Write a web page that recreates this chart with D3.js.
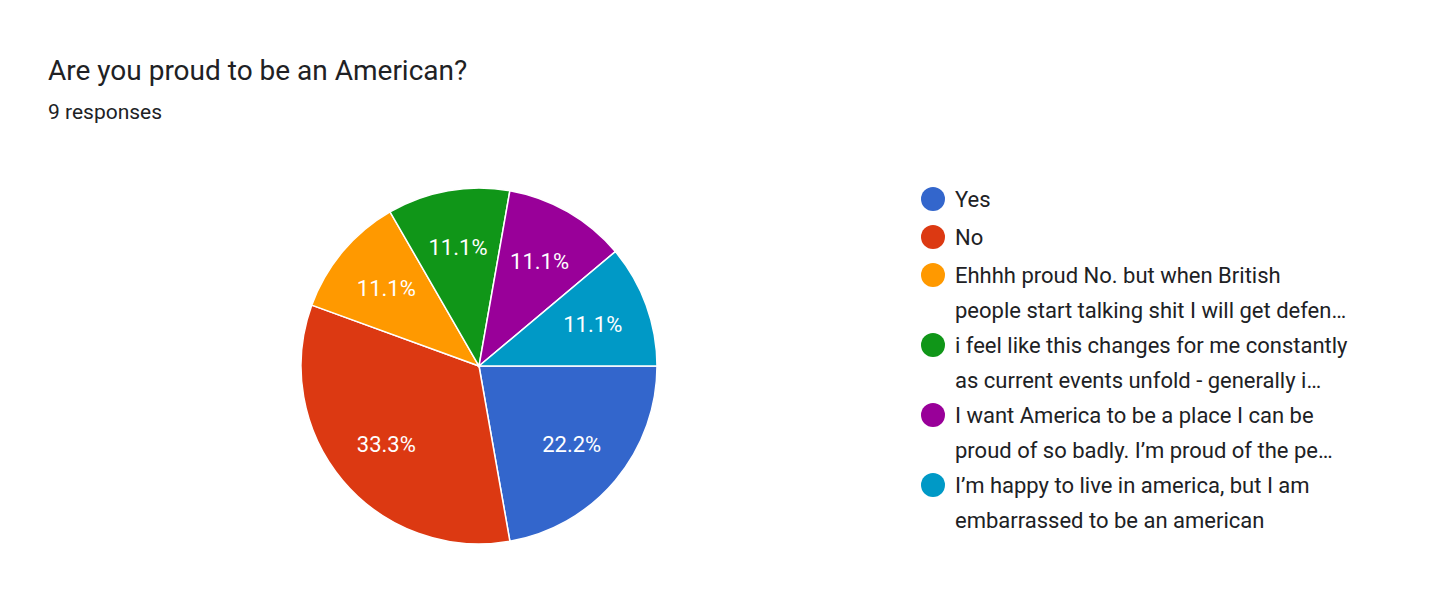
<!DOCTYPE html>
<html>
<head>
<meta charset="utf-8">
<script src="https://cdn.jsdelivr.net/npm/d3@7"></script>
<style>
  body { margin: 0; background: #fff; }
  svg { font-family: Roboto, "Liberation Sans", Arial, sans-serif; }
</style>
</head>
<body>
<div id="chart"></div>
<script>
const categories = ["Yes", "No", "Ehhhh proud No. but when British people start talking shit I will get defen…", "i feel like this changes for me constantly as current events unfold - generally i…", "I want America to be a place I can be proud of so badly. I’m proud of the pe…", "I’m happy to live in america, but I am embarrassed to be an american"];
const legendLines = [
  ["Yes"],
  ["No"],
  ["Ehhhh proud No. but when British", "people start talking shit I will get defen…"],
  ["i feel like this changes for me constantly", "as current events unfold - generally i…"],
  ["I want America to be a place I can be", "proud of so badly. I’m proud of the pe…"],
  ["I’m happy to live in america, but I am", "embarrassed to be an american"]
];
const counts = [2, 3, 1, 1, 1, 1];
const colors = ["#3366cc", "#dc3912", "#ff9900", "#109618", "#990099", "#0099c6"];

const width = 1456, height = 613;
const cx = 479, cy = 366, r = 178;

const svg = d3.select("#chart").append("svg")
    .attr("width", width)
    .attr("height", height);

svg.append("text").attr("x", 48).attr("y", 80)
    .attr("font-size", 28).attr("fill", "#202124")
    .text("Are you proud to be an American?");
svg.append("text").attr("x", 48).attr("y", 119)
    .attr("font-size", 21).attr("fill", "#202124")
    .text("9 responses");

const total = d3.sum(counts);
const pie = d3.pie().sort(null).value(d => d)
    .startAngle(Math.PI / 2).endAngle(Math.PI / 2 + 2 * Math.PI);
const arc = d3.arc().innerRadius(0).outerRadius(r);
const labelArc = d3.arc().innerRadius(r * 0.68).outerRadius(r * 0.68);

const g = svg.append("g").attr("transform", `translate(${cx},${cy})`);
const arcs = pie(counts);
g.selectAll("path").data(arcs).join("path")
    .attr("d", arc)
    .attr("fill", (d, i) => colors[i])
    .attr("stroke", "#fff")
    .attr("stroke-width", 1.5);

g.selectAll("text").data(arcs).join("text")
    .attr("transform", d => `translate(${labelArc.centroid(d)})`)
    .attr("text-anchor", "middle")
    .attr("dy", "0.35em")
    .attr("font-size", 22)
    .attr("fill", "#fff")
    .text(d => (d.value / total * 100).toFixed(1) + "%");

// legend
const legend = svg.append("g");
let y = 199;
legendLines.forEach((lines, i) => {
  legend.append("circle").attr("cx", 933).attr("cy", y).attr("r", 12).attr("fill", colors[i]);
  lines.forEach((line, j) => {
    legend.append("text").attr("x", 955).attr("y", y + j * 35)
        .attr("dy", "0.35em").attr("font-size", 22).attr("fill", "#202124")
        .text(line);
  });
  y += lines.length === 1 ? 38 : 70;
});
</script>
</body>
</html>
